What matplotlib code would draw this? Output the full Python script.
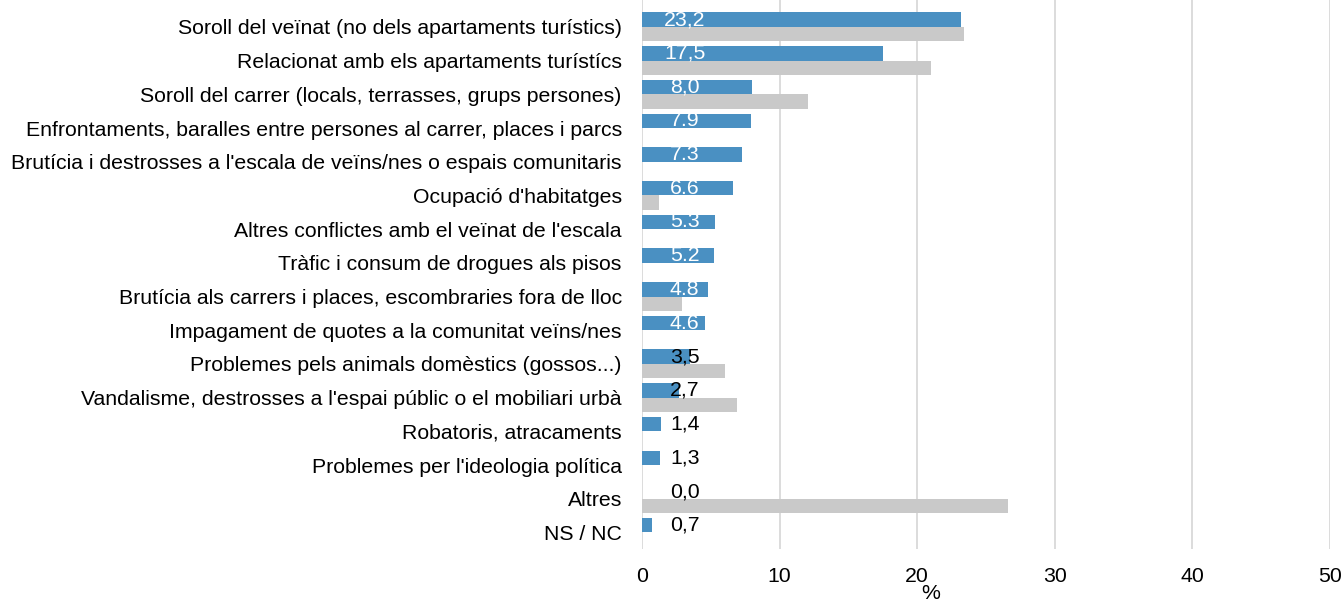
import numpy as np
import matplotlib
matplotlib.use("Agg")
import matplotlib.pyplot as plt

plt.rcParams['font.family'] = ['Liberation Sans', 'DejaVu Sans']

# categories, top to bottom
categories = [
    "Soroll del veïnat (no dels apartaments turístics)",
    "Relacionat amb els apartaments turístícs",
    "Soroll del carrer (locals, terrasses, grups persones)",
    "Enfrontaments, baralles entre persones al carrer, places i parcs",
    "Brutícia i destrosses a l'escala de veïns/nes o espais comunitaris",
    "Ocupació d'habitatges",
    "Altres conflictes amb el veïnat de l'escala",
    "Tràfic i consum de drogues als pisos",
    "Brutícia als carrers i places, escombraries fora de lloc",
    "Impagament de quotes a la comunitat veïns/nes",
    "Problemes pels animals domèstics (gossos...)",
    "Vandalisme, destrosses a l'espai públic o el mobiliari urbà",
    "Robatoris, atracaments",
    "Problemes per l'ideologia política",
    "Altres",
    "NS / NC",
]

# current survey (blue) and previous survey (grey)
current = [23.2, 17.5, 8.0, 7.9, 7.3, 6.6, 5.3, 5.2, 4.8, 4.6, 3.5, 2.7, 1.4, 1.3, 0.0, 0.7]
previous = [23.4, 21.0, 12.1, 0, 0, 1.25, 0, 0, 2.9, 0, 6.0, 6.9, 0, 0, 26.6, 0]
value_labels = ["23,2", "17,5", "8,0", "7.9", "7.3", "6.6", "5.3", "5.2",
                "4.8", "4.6", "3,5", "2,7", "1,4", "1,3", "0,0", "0,7"]

blue = "#4A90C2"
grey = "#C9C9C9"
grid = "#D9D9D9"
fs = 15.3

fig = plt.figure(figsize=(13.44, 6.01), dpi=100)
ax = fig.add_axes([642 / 1344, 1 - 549 / 601, (1330 - 642) / 1344, 549 / 601])

y = np.arange(len(categories))
h = 0.43
ax.barh(y - h / 2, current, height=h, color=blue, linewidth=0, zorder=3)
ax.barh(y + h / 2, previous, height=h, color=grey, linewidth=0, zorder=3)

for yi, val, txt in zip(y, current, value_labels):
    col = "white" if val > 4 else "black"
    ax.text(3.1, yi - h / 2, txt, ha="center", va="center", fontsize=fs,
            color=col, zorder=4)

ax.set_xlim(0, 50)
ax.set_ylim(15.49, -0.80)
ax.set_xticks(np.arange(0, 51, 10))
ax.set_yticks(y)
ax.set_yticklabels(categories)
ax.tick_params(axis="both", length=0, labelsize=fs, colors="black")
ax.tick_params(axis="x", pad=13)
ax.tick_params(axis="y", pad=14.5)
ax.xaxis.grid(True, color=grid, linewidth=1.3, zorder=0)
for s in ax.spines.values():
    s.set_visible(False)

ax.set_xlabel("%", fontsize=fs)
ax.xaxis.set_label_coords(0.42, -0.064)

fig.savefig("out.png", dpi=100)
